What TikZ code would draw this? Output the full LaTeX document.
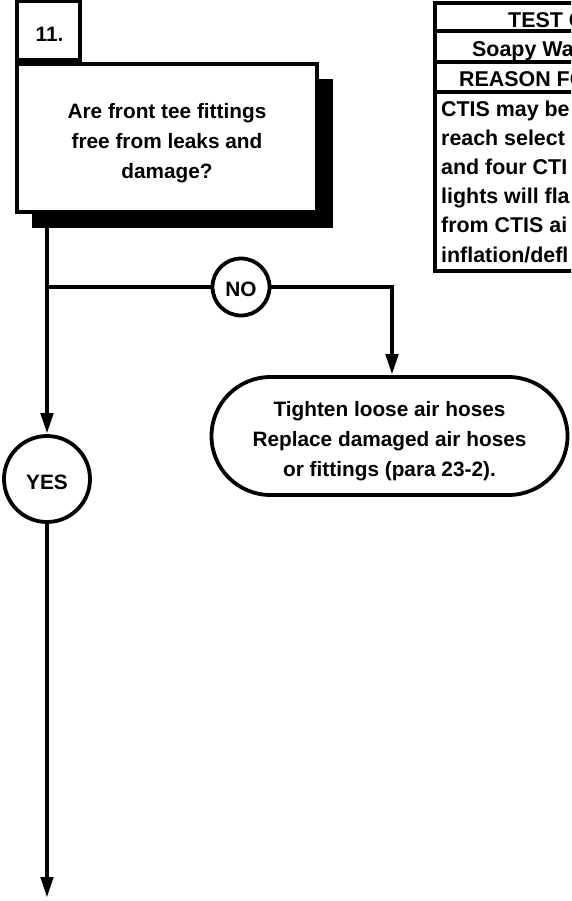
\documentclass[tikz,border=0pt]{standalone}
\usepackage{fontspec}
\setmainfont{Liberation Sans}
\usetikzlibrary{arrows.meta,shapes.misc}
\begin{document}
\begin{tikzpicture}[x=1pt,y=-1pt,line join=miter,
  every node/.style={font=\fontsize{20.8}{30}\selectfont\bfseries},
  ln/.style={line width=4.5pt},
  arr/.style={ln,-{Triangle[length=21pt,width=12pt]}},
  bx/.style={draw,line width=4pt,fill=white,inner sep=0pt},
  circ/.style={draw,circle,line width=3.8pt,fill=white,inner sep=0pt},
  lbl/.style={inner sep=0pt,align=center},
  tline/.style={line width=4pt},
  ttext/.style={anchor=base west,inner sep=0pt,font=\fontsize{21.4}{29}\selectfont\bfseries}]
\useasboundingbox (0,0) rectangle (571,901);
\clip (0,0) rectangle (571,901);
% question box with shadow
\node[fill=black,anchor=north west,minimum width=301pt,minimum height=149pt,inner sep=0pt] (shadow) at (32,79) {};
\node[bx,anchor=north west,minimum width=300pt,minimum height=148pt] (q) at (15,62) {};
\node[lbl] (qt) at ([yshift=-5pt]q.center) {Are front tee fittings\\free from leaks and\\damage?};
\node[bx,anchor=south west,minimum width=63pt,minimum height=59pt] (tab) at (15,62) {};
\node[lbl] (tabt) at ([yshift=-4pt,xshift=1pt]tab.center) {11.};
% table
\draw[tline] (600,3) -- (435,3) -- (435,271) -- (600,271);
\draw[tline] (435,31) -- (600,31);
\draw[tline] (435,62) -- (600,62);
\draw[tline] (435,92) -- (600,92);
\node[ttext] (t1) at (508,28) {TEST C};
\node[ttext] (t2) at (472,57) {Soapy Wa};
\node[ttext] (t3) at (459,87) {REASON FO};
\node[ttext] (r1) at (441,117) {CTIS may be};
\node[ttext] (r2) at (441,146) {reach select};
\node[ttext] (r3) at (441,175) {and four CTI};
\node[ttext] (r4) at (441,204) {lights will fla};
\node[ttext] (r5) at (441,233) {from CTIS ai};
\node[ttext] (r6) at (441,262) {inflation/defl};
% circles
\node[circ,minimum size=57pt] (no) at (241,287) {};
\node[lbl] (not) at ([yshift=-2pt]no.center) {NO};
\node[circ,minimum size=86pt] (yes) at (47,479) {};
\node[lbl] (yest) at ([yshift=-3pt]yes.center) {YES};
% terminal
\node[draw,rounded rectangle,line width=3.8pt,minimum width=356pt,minimum height=118pt,inner sep=0pt] (fix) at (389.5,436) {};
\node[lbl] (fixt) at ([yshift=-5pt]fix.center) {Tighten loose air hoses\\Replace damaged air hoses\\or fittings (para 23-2).};
% connectors
\coordinate (top) at (47,228);
\coordinate (j) at (47,287);
\coordinate (k) at (392,287);
\coordinate (end) at (47,898);
\draw[arr] (top) -- (yes.north);
\draw[ln] (j) -- (no.west);
\draw[arr] (no.east) -- (k) -- (k |- fix.north);
\draw[arr] (yes.south) -- (end);
\end{tikzpicture}
\end{document}
